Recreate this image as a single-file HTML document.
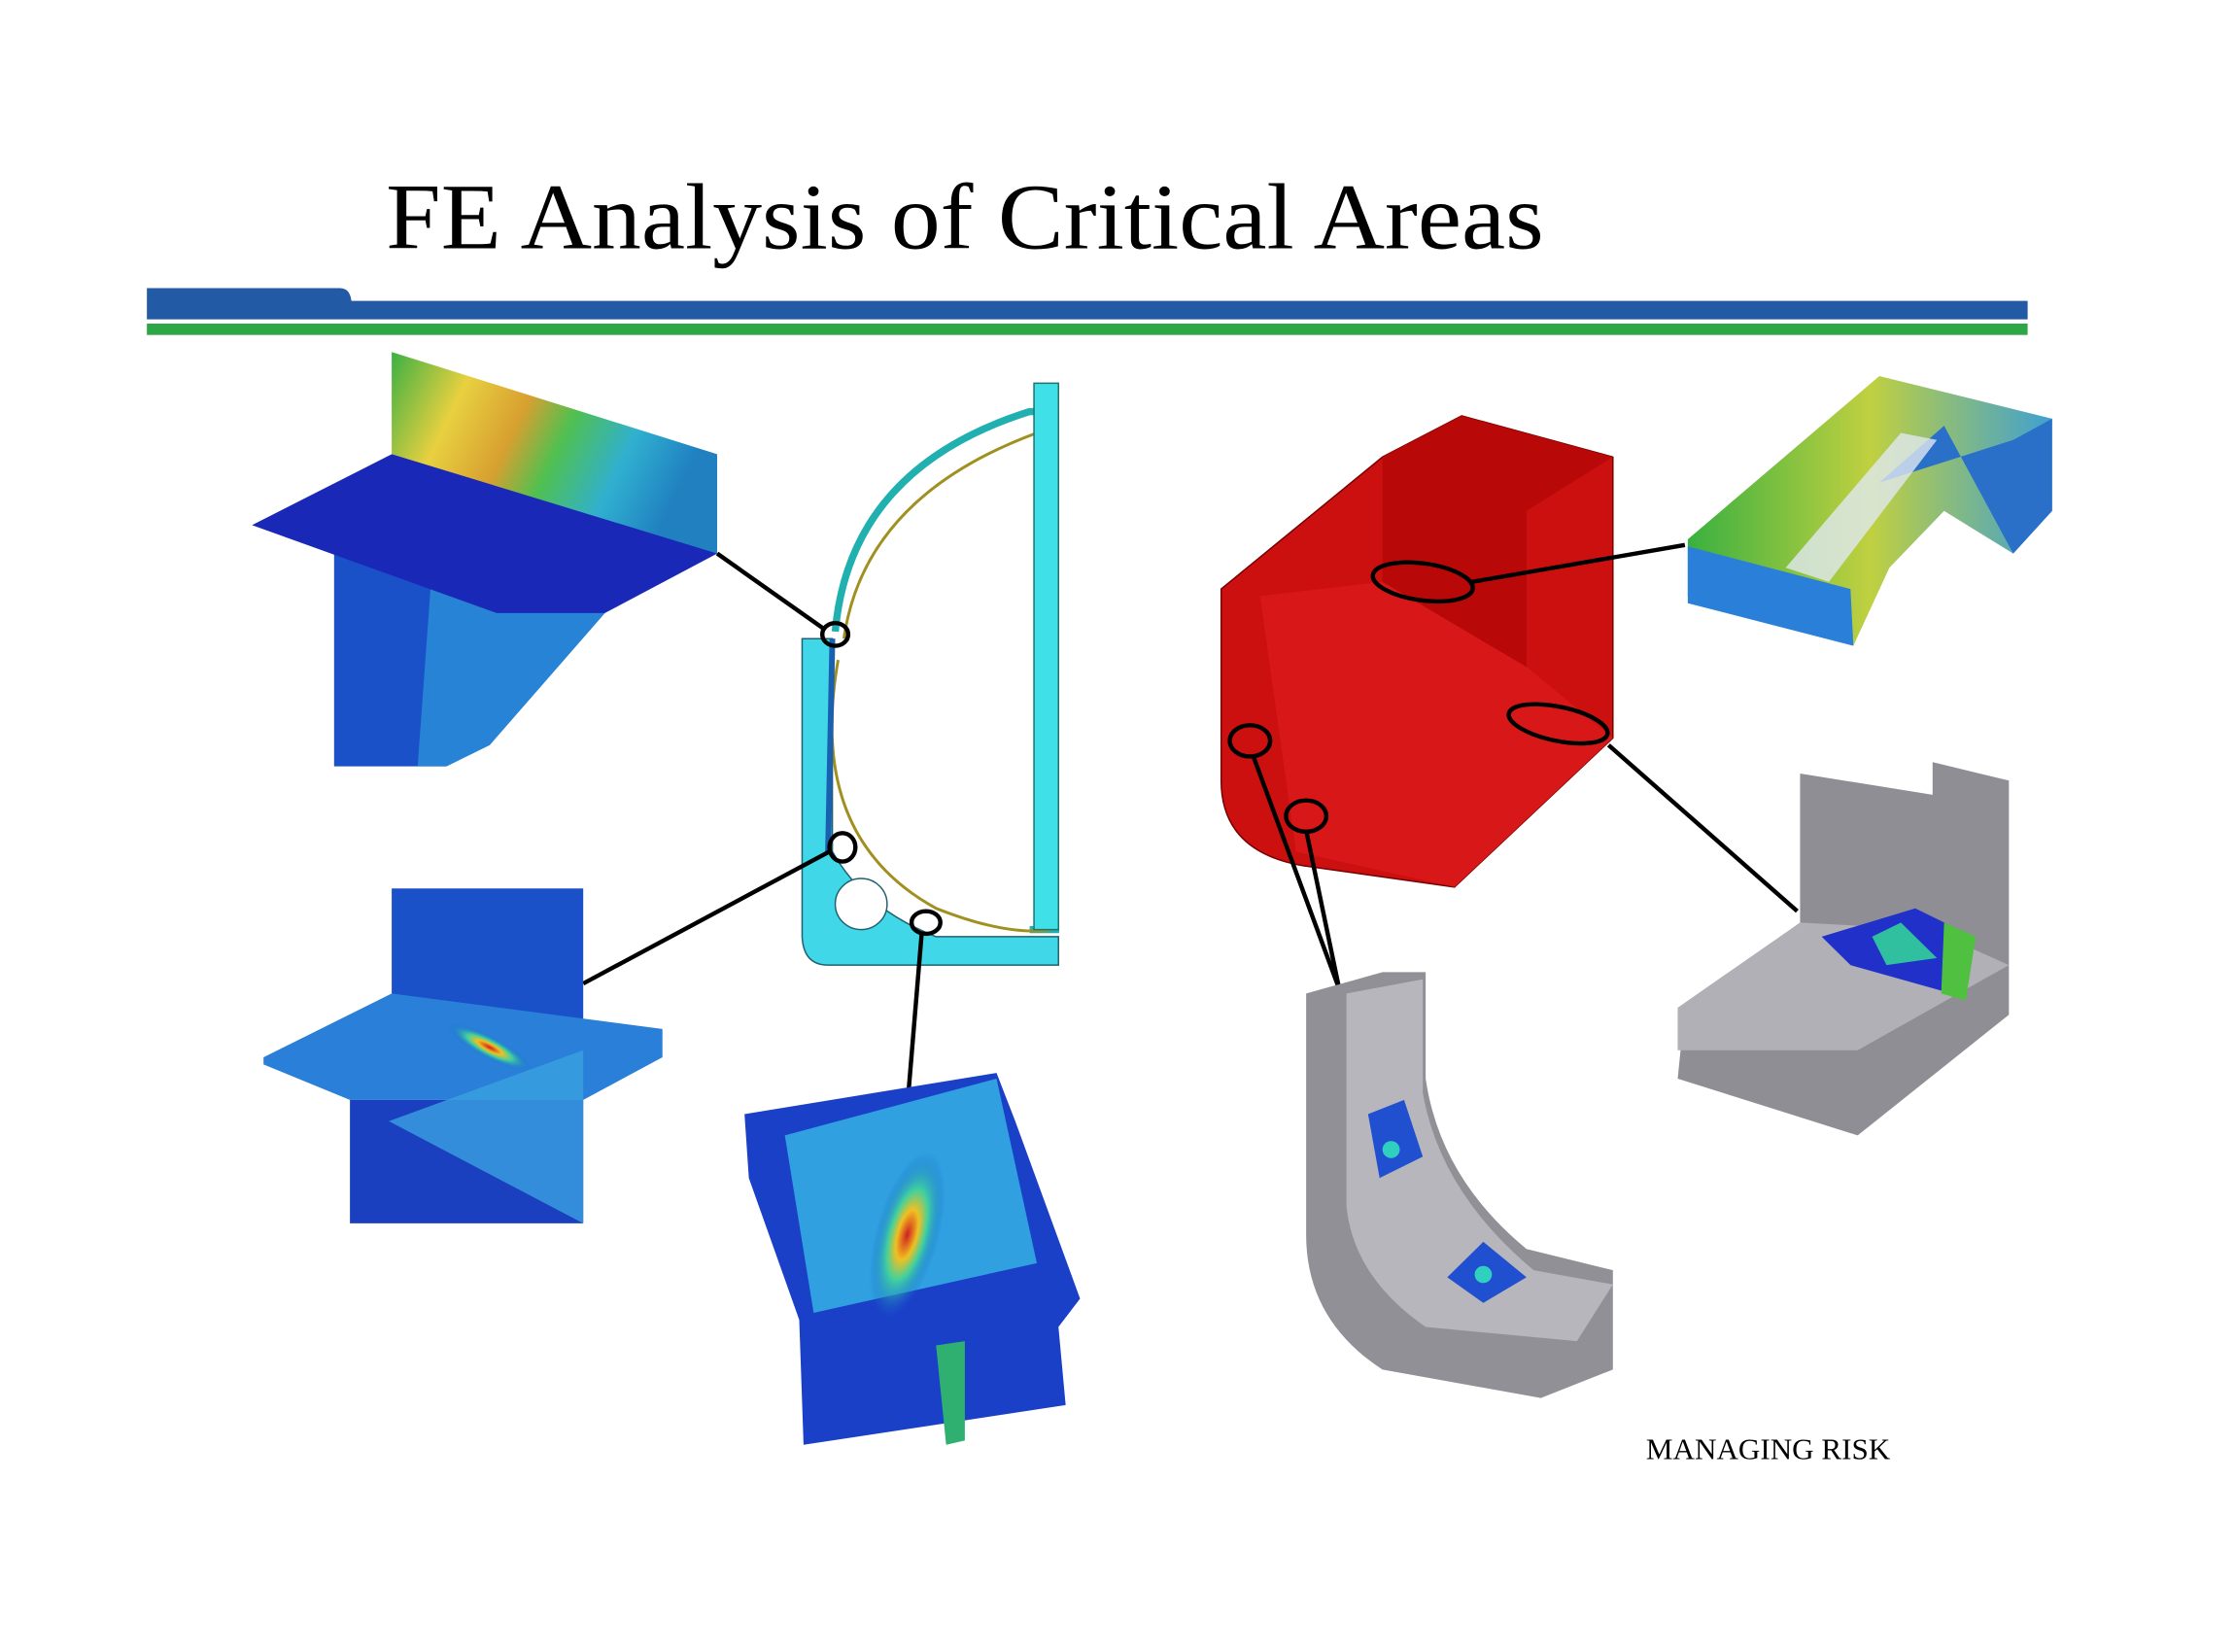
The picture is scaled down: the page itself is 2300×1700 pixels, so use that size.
<!DOCTYPE html>
<html><head><meta charset="utf-8"><style>html,body{margin:0;padding:0;background:#fff}svg{display:block}</style></head>
<body>
<svg width="2300" height="1700" viewBox="0 0 1552 1164" preserveAspectRatio="none" xmlns="http://www.w3.org/2000/svg">
<defs>
<linearGradient id="g1" x1="0" y1="0" x2="1" y2="0.3"><stop offset="0" stop-color="#3cb043"/><stop offset="0.25" stop-color="#e8d040"/><stop offset="0.45" stop-color="#d8a030"/><stop offset="0.6" stop-color="#50c050"/><stop offset="0.8" stop-color="#30b0d0"/><stop offset="1" stop-color="#2080c0"/></linearGradient>
<radialGradient id="hot" cx="0.5" cy="0.5" r="0.5"><stop offset="0" stop-color="#d02020"/><stop offset="0.3" stop-color="#f0c020"/><stop offset="0.55" stop-color="#40d0a0"/><stop offset="1" stop-color="#1060d0" stop-opacity="0"/></radialGradient>
<linearGradient id="gy" x1="0" y1="0" x2="1" y2="0"><stop offset="0" stop-color="#3ab040"/><stop offset="0.5" stop-color="#c0d040"/><stop offset="1" stop-color="#40a0d0"/></linearGradient>
</defs>
<text x="268" y="175" font-family="Liberation Serif, serif" font-size="66" textLength="804" lengthAdjust="spacingAndGlyphs">FE Analysis of Critical Areas</text>
<path d="M102 203 H236 Q243 203 244 212 H1408 V225 H102 Z" fill="#225aa6"/>
<rect x="102" y="228" width="1306" height="8" fill="#2ca646"/>

<!-- top-left detail -->
<polygon points="272,248 498,320 498,390 272,340" fill="url(#g1)"/>
<polygon points="232,385 345,395 420,432 340,525 310,540 232,540" fill="#1a50c8"/>
<polygon points="300,400 420,432 340,525 310,540 290,540" fill="#2a90d8" opacity="0.8"/>
<polygon points="175,370 272,320 498,390 420,432 345,432" fill="#1a28b8"/>
<line x1="498" y1="390" x2="572" y2="443" stroke="#000" stroke-width="3"/>

<!-- midsection -->
<path d="M580 445 Q590 330 715 290 L733 290 L733 655 L715 655" fill="none" stroke="#20b0b0" stroke-width="5"/>
<path d="M586 450 Q600 350 720 305" fill="none" stroke="#a09020" stroke-width="2"/>
<path d="M582 465 Q560 590 650 640 Q700 660 730 655" fill="none" stroke="#a09020" stroke-width="2"/>
<rect x="718" y="270" width="17" height="385" fill="#40e0e8" stroke="#207070" stroke-width="1"/>
<path d="M557 450 H578 V600 Q600 640 650 660 H735 V680 H575 Q558 680 557 660 Z" fill="#40d8e8" stroke="#206070" stroke-width="1"/>
<path d="M578 450 L575 600" stroke="#1a60b0" stroke-width="4"/>
<circle cx="598" cy="637" r="18" fill="#fff" stroke="#206070"/>
<ellipse cx="580" cy="447" rx="9" ry="8" fill="none" stroke="#000" stroke-width="3"/>
<ellipse cx="585" cy="597" rx="9" ry="10" fill="none" stroke="#000" stroke-width="3"/>
<ellipse cx="643" cy="650" rx="10" ry="8" fill="none" stroke="#000" stroke-width="3"/>
<line x1="576" y1="600" x2="405" y2="693" stroke="#000" stroke-width="3"/>
<line x1="640" y1="658" x2="631" y2="768" stroke="#000" stroke-width="3"/>

<!-- cross detail -->
<rect x="272" y="626" width="133" height="120" fill="#1a50c8"/>
<polygon points="183,745 272,700 460,725 460,745 405,775 243,775 183,750" fill="#2a80d8"/>
<polygon points="243,775 405,775 405,862 243,862" fill="#1a40c0"/>
<polygon points="270,790 405,740 405,862" fill="#3aa0e0" opacity="0.8"/>
<ellipse cx="340" cy="738" rx="32" ry="8" transform="rotate(28 340 738)" fill="url(#hot)"/>

<!-- bottom center detail -->
<polygon points="517,785 692,756 705,790 750,915 735,935 740,990 558,1018 555,930 520,830" fill="#1a40c8"/>
<polygon points="545,800 692,760 720,890 565,925" fill="#30a0e0"/>
<ellipse cx="630" cy="870" rx="22" ry="60" transform="rotate(15 630 870)" fill="url(#hot)"/>
<polygon points="650,948 670,945 670,1015 657,1018" fill="#30b070"/>

<!-- red block -->
<path d="M848 415 L960 322 L1015 293 L1120 322 L1120 520 L1010 625 L905 610 Q848 600 848 550 Z" fill="#cc1010" stroke="#700" stroke-width="1"/>
<polygon points="960,322 1015,293 1120,322 1060,360 1060,470 960,410" fill="#b80808"/>
<polygon points="875,420 960,410 1060,470 1120,520 1010,625 900,600" fill="#d81818"/>
<ellipse cx="988" cy="410" rx="35" ry="13" transform="rotate(8 988 410)" fill="none" stroke="#000" stroke-width="3"/>
<ellipse cx="1082" cy="510" rx="35" ry="12" transform="rotate(12 1082 510)" fill="none" stroke="#000" stroke-width="3"/>
<ellipse cx="868" cy="522" rx="14" ry="11" fill="none" stroke="#000" stroke-width="3"/>
<ellipse cx="907" cy="575" rx="14" ry="11" fill="none" stroke="#000" stroke-width="3"/>
<line x1="1022" y1="410" x2="1170" y2="384" stroke="#000" stroke-width="3"/>
<line x1="1117" y1="525" x2="1248" y2="642" stroke="#000" stroke-width="3"/>
<line x1="870" y1="532" x2="930" y2="697" stroke="#000" stroke-width="3"/>
<line x1="907" y1="585" x2="930" y2="697" stroke="#000" stroke-width="3"/>

<!-- top-right detail -->
<polygon points="1172,380 1305,265 1425,295 1425,360 1398,390 1350,360 1312,400 1287,455 1172,420" fill="url(#gy)"/>
<polygon points="1172,385 1285,415 1287,455 1172,425" fill="#2a80d8"/>
<polygon points="1305,340 1350,300 1398,390 1425,360 1425,295 1398,310" fill="#2a70c8"/>
<polygon points="1240,400 1320,305 1345,310 1270,410" fill="#e0e8f0" opacity="0.8"/>

<!-- gray right -->
<polygon points="1250,545 1342,560 1342,537 1395,550 1395,715 1290,800 1165,760 1170,710 1250,650" fill="#8e8e94"/>
<polygon points="1165,710 1250,650 1340,655 1395,680 1290,740 1165,740" fill="#b0b0b6"/>
<polygon points="1265,660 1330,640 1370,660 1355,700 1285,680" fill="#2030c8"/>
<polygon points="1300,660 1320,650 1345,675 1310,680" fill="#30c0a0"/>
<polygon points="1350,650 1372,660 1365,705 1348,700" fill="#50c040"/>

<!-- gray left -->
<path d="M907 700 L960 685 L990 685 L990 760 Q1000 830 1060 880 L1120 895 L1120 965 L1070 985 L960 965 Q907 930 907 870 Z" fill="#909096"/>
<path d="M935 700 L988 690 L988 770 Q1000 840 1065 895 L1120 905 L1095 945 L990 935 Q940 900 935 850 Z" fill="#b6b6bc"/>
<polygon points="950,785 975,775 988,815 958,830" fill="#2050d0"/>
<circle cx="966" cy="810" r="6" fill="#30d0c0"/>
<polygon points="1005,900 1030,875 1060,900 1030,918" fill="#2050d0"/>
<circle cx="1030" cy="898" r="6" fill="#30d0c0"/>

<text x="1143" y="1028" font-family="Liberation Serif, serif" font-size="21">MANAGING RISK</text>
</svg>
</body></html>
